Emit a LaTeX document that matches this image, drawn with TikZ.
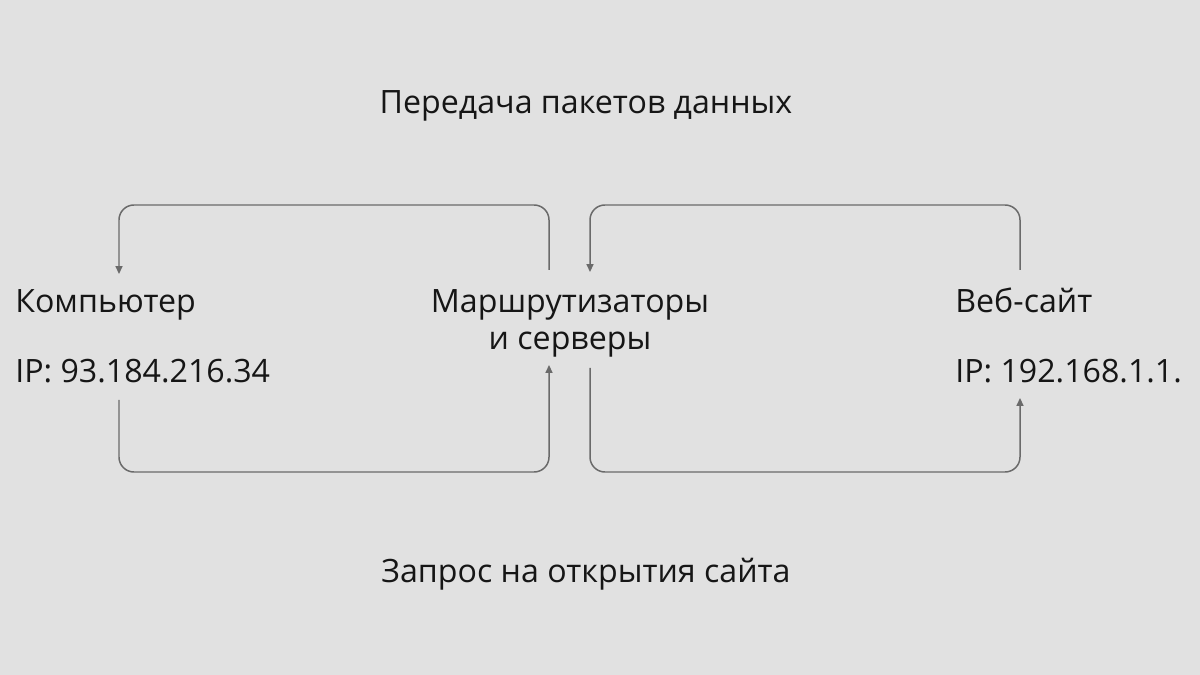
\documentclass[tikz,border=0pt]{standalone}
\usepackage{fontspec}
\setmainfont{Open Sans}
\usetikzlibrary{arrows.meta}
\definecolor{bg}{HTML}{E1E1E1}
\definecolor{txt}{HTML}{161616}
\definecolor{ln}{HTML}{6A6A6A}
\tikzset{
  lbl/.style={inner sep=0pt, text=txt, font=\fontsize{18.3}{22}\selectfont},
  conn/.style={draw=ln, line width=0.85pt, rounded corners=8.5pt,
    -{Triangle[length=4.5pt,width=4pt]}}
}
\begin{document}
\begin{tikzpicture}[x=0.02cm,y=-0.02cm]
\fill[bg] (0,0) rectangle (1200,675);
\useasboundingbox (0,0) rectangle (1200,675);

\node[lbl, anchor=base] (title) at (586,114) {Передача пакетов данных};
\node[lbl, anchor=base] (bottom) at (586,582) {Запрос на открытия сайта};

\node[lbl, anchor=base west] (comp) at (15,313) {Компьютер};
\node[lbl, anchor=base west] (compip) at (15,382) {IP: 93.184.216.34};

\node[lbl, anchor=base] (mid) at (570,313) {Маршрутизаторы};
\node[lbl, anchor=base] (mid2) at (570,350) {и серверы};

\node[lbl, anchor=base west] (web) at (955,313) {Веб-сайт};
\node[lbl, anchor=base west] (webip) at (955,382) {IP: 192.168.1.1.};

% endpoints near nodes
\coordinate (midTopL) at (549,270);
\coordinate (midTopR) at (590,272);
\coordinate (midBotL) at (549,365);
\coordinate (midBotR) at (590,368);
\coordinate (compTop) at (119,274);
\coordinate (compBot) at (119,400);
\coordinate (webTop) at (1020,270);
\coordinate (webBot) at (1020,398);

\draw[conn] (midTopL) -- (midTopL |- 0,205) -- (compTop |- 0,205) -- (compTop);
\draw[conn] (webTop) -- (webTop |- 0,205) -- (midTopR |- 0,205) -- (midTopR);
\draw[conn] (compBot) -- (compBot |- 0,472) -- (midBotL |- 0,472) -- (midBotL);
\draw[conn] (midBotR) -- (midBotR |- 0,472) -- (webBot |- 0,472) -- (webBot);
\end{tikzpicture}
\end{document}
